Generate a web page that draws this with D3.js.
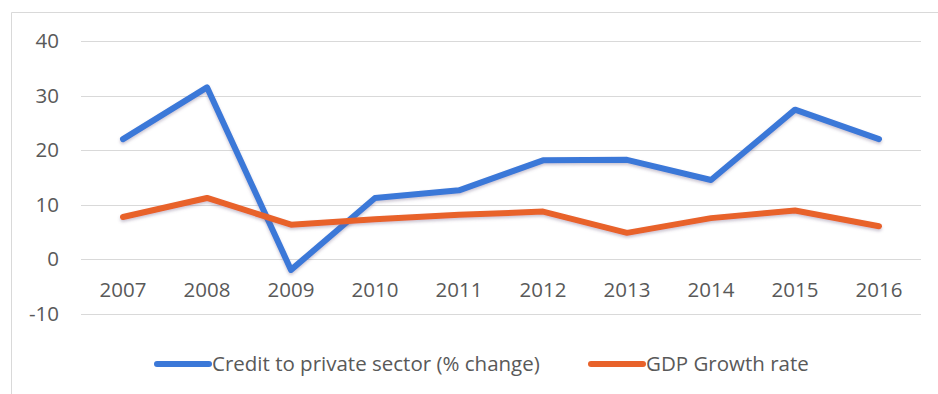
<!DOCTYPE html>
<html>
<head>
<meta charset="utf-8">
<script src="https://cdn.jsdelivr.net/npm/d3@7"></script>
<style>
  html, body { margin: 0; padding: 0; background: #ffffff; }
  svg { display: block; }
  text { font-family: "Open Sans", "Noto Sans", sans-serif; fill: #595959; }
</style>
</head>
<body>
<svg id="chart" width="938" height="394"></svg>
<script>
// Years on the category axis
const years = ["2007", "2008", "2009", "2010", "2011", "2012", "2013", "2014", "2015", "2016"];
// Credit to private sector, % change
const creditGrowth = [22, 31.5, -2, 11.2, 12.6, 18.1, 18.2, 14.5, 27.4, 22];
// GDP growth rate, %
const gdpGrowth = [7.7, 11.2, 6.3, 7.3, 8.1, 8.7, 4.8, 7.5, 8.9, 6.0];
// Value axis ticks
const yTicks = [-10, 0, 10, 20, 30, 40];

const seriesNames = ["Credit to private sector (% change)", "GDP Growth rate"];
const seriesColors = ["#3b78d8", "#e8622a"];

const fontSize = 20.5;

const svg = d3.select("#chart");

// Chart frame
svg.append("path")
  .attr("d", "M11.5,394 V12.5 H938")
  .attr("fill", "none")
  .attr("stroke", "#d9d9d9")
  .attr("stroke-width", 1);

const plot = { left: 81, right: 921, top: 41, bottom: 313.5 };

const x = d3.scaleBand().domain(years).range([plot.left, plot.right]);
const y = d3.scaleLinear().domain([-10, 40]).range([plot.bottom, plot.top]);

// Horizontal gridlines
svg.append("g")
  .selectAll("line")
  .data(yTicks)
  .join("line")
  .attr("x1", plot.left)
  .attr("x2", plot.right)
  .attr("y1", d => Math.round(y(d)) + 0.5)
  .attr("y2", d => Math.round(y(d)) + 0.5)
  .attr("stroke", "#d9d9d9")
  .attr("stroke-width", 1);

// Value axis labels (plain hyphen for negatives)
const yAxis = d3.axisLeft(y).tickValues(yTicks).tickFormat(d => String(d)).tickSize(0).tickPadding(0);
const yg = svg.append("g").attr("transform", `translate(${plot.left - 22},0)`).call(yAxis);
yg.select(".domain").remove();
yg.selectAll("text")
  .attr("font-size", fontSize)
  .attr("fill", "#595959")
  .attr("font-family", "'Open Sans', sans-serif");

// Category labels sit just under the zero line
const xAxis = d3.axisBottom(x).tickSize(0).tickPadding(0);
const xg = svg.append("g").attr("transform", `translate(0,${y(0) + 23})`).call(xAxis);
xg.select(".domain").remove();
xg.selectAll("text")
  .attr("font-size", fontSize)
  .attr("fill", "#595959")
  .attr("font-family", "'Open Sans', sans-serif");

// Soft drop shadow under the lines
const defs = svg.append("defs");
const shadow = defs.append("filter").attr("id", "lineShadow")
  .attr("x", "-5%").attr("y", "-20%").attr("width", "110%").attr("height", "140%");
shadow.append("feDropShadow")
  .attr("dx", 0).attr("dy", 2).attr("stdDeviation", 1.5)
  .attr("flood-color", "#6a5a80").attr("flood-opacity", 0.35);

const line = d3.line()
  .x((d, i) => x(years[i]) + x.bandwidth() / 2)
  .y(d => y(d));

[creditGrowth, gdpGrowth].forEach((values, k) => {
  svg.append("path")
    .datum(values)
    .attr("d", line)
    .attr("fill", "none")
    .attr("stroke", seriesColors[k])
    .attr("stroke-width", 6)
    .attr("stroke-linejoin", "round")
    .attr("stroke-linecap", "round")
    .attr("filter", "url(#lineShadow)");
});

// Legend
const legendItems = [
  { x: 157, name: seriesNames[0], color: seriesColors[0] },
  { x: 591, name: seriesNames[1], color: seriesColors[1] }
];
const legendY = 364;
const lg = svg.append("g");
legendItems.forEach(item => {
  lg.append("line")
    .attr("x1", item.x).attr("x2", item.x + 52)
    .attr("y1", legendY).attr("y2", legendY)
    .attr("stroke", item.color)
    .attr("stroke-width", 6)
    .attr("stroke-linecap", "round");
  lg.append("text")
    .attr("x", item.x + 55)
    .attr("y", legendY)
    .attr("dy", "0.35em")
    .attr("font-size", fontSize)
    .text(item.name);
});
</script>
</body>
</html>
